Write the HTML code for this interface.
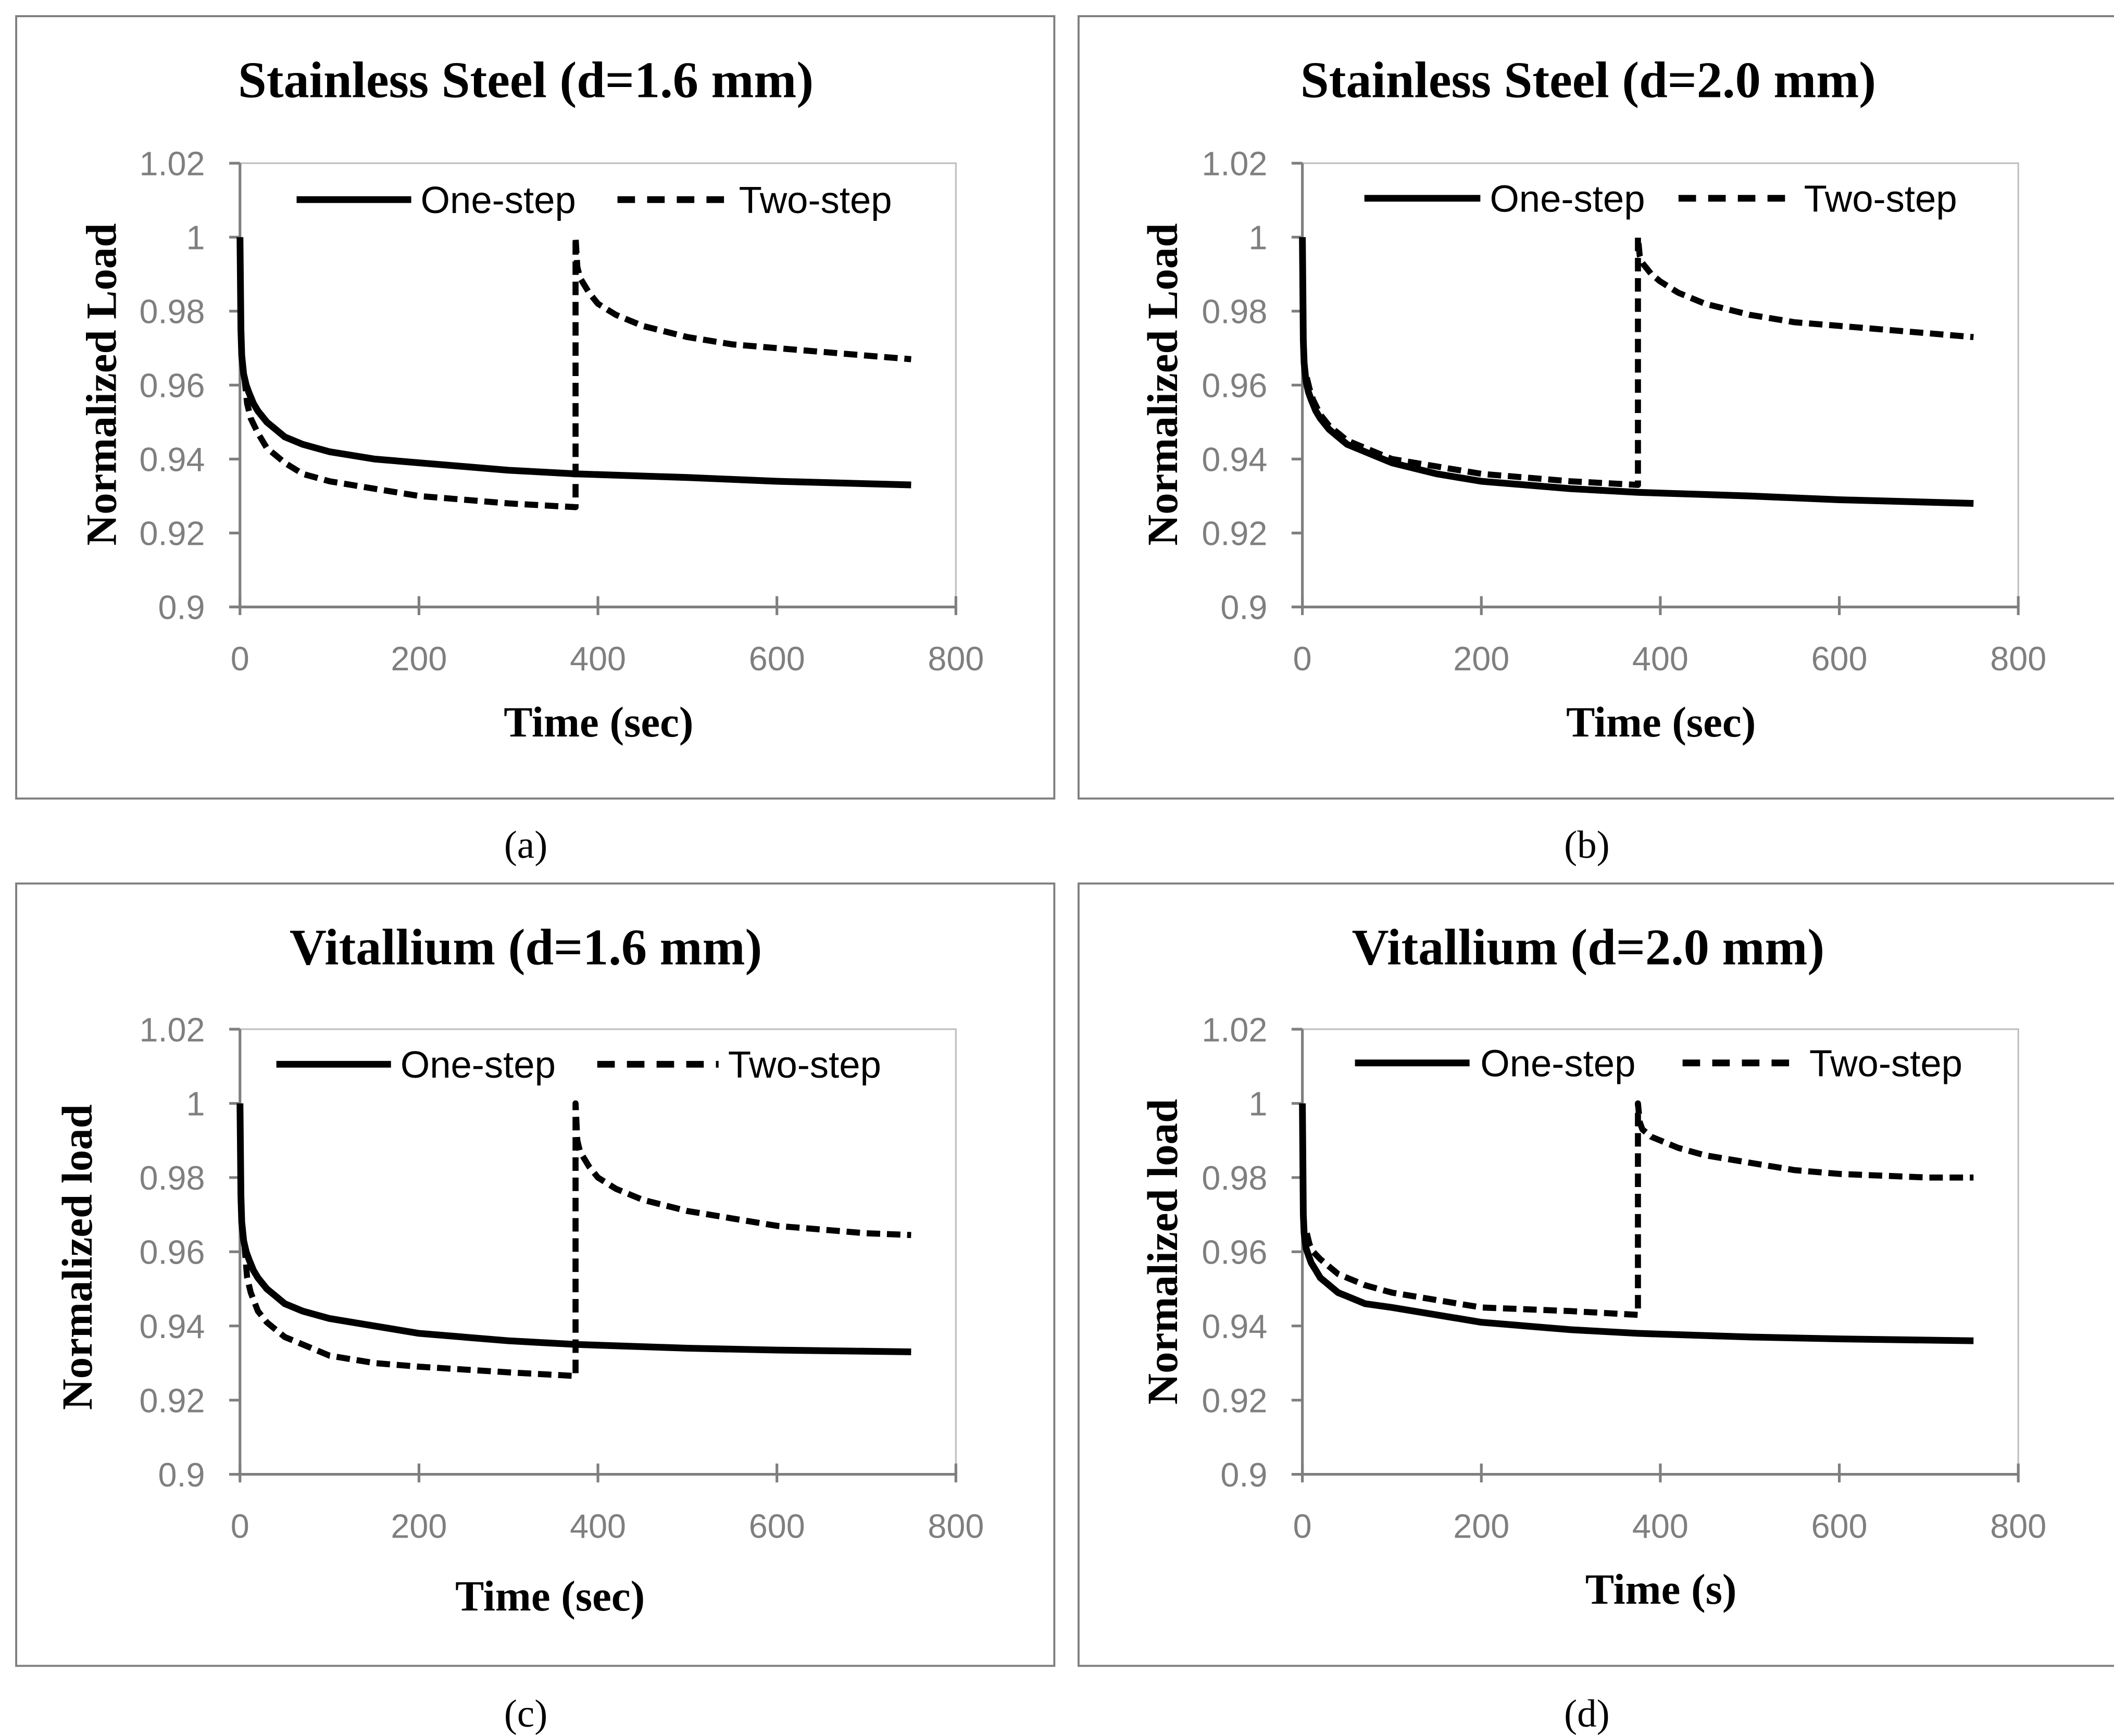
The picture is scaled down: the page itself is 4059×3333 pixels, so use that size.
<!DOCTYPE html>
<html><head><meta charset="utf-8"><style>
html,body{margin:0;padding:0;background:#fff;}
svg{display:block;}
.t{font-family:"Liberation Serif",serif;font-weight:bold;fill:#000;}
.tk{font-family:"Liberation Sans",sans-serif;fill:#7f7f7f;font-size:25px;}
.lg{font-family:"Liberation Sans",sans-serif;fill:#000;font-size:28px;}
</style></head><body>
<svg id="fig" width="4059" height="3333" viewBox="0 0 1568 1287" preserveAspectRatio="none" xmlns="http://www.w3.org/2000/svg"></svg>
<script>
// Data: time (s) and normalized load
const panelTitles = ["Stainless Steel (d=1.6 mm)","Stainless Steel (d=2.0 mm)","Vitallium (d=1.6 mm)","Vitallium (d=2.0 mm)"];
const yTitles = ["Normalized Load","Normalized Load","Normalized load","Normalized load"];
const xTitles = ["Time (sec)","Time (sec)","Time (sec)","Time (s)"];
const panelLabels = ["(a)","(b)","(c)","(d)"];
const xTicks = [0,200,400,600,800];
const yTicks = [0.9,0.92,0.94,0.96,0.98,1,1.02];
const yTickLabels = ["0.9","0.92","0.94","0.96","0.98","1","1.02"];

const oneT = [0,1,2,4,7,10,15,20,30,40,50,70,100,150,200,300,375,500,600,750];
const oneA = [1.0,0.975,0.968,0.963,0.960,0.958,0.955,0.953,0.950,0.948,0.946,0.944,0.942,0.940,0.939,0.937,0.936,0.935,0.934,0.933];
const oneB = [1.0,0.972,0.966,0.961,0.958,0.956,0.953,0.951,0.948,0.946,0.944,0.942,0.939,0.936,0.934,0.932,0.931,0.930,0.929,0.928];
const oneC = [1.0,0.975,0.968,0.963,0.960,0.958,0.955,0.953,0.950,0.948,0.946,0.944,0.942,0.940,0.938,0.936,0.935,0.934,0.9335,0.933];
const oneD = [1.0,0.970,0.965,0.961,0.959,0.957,0.955,0.953,0.951,0.949,0.948,0.946,0.945,0.943,0.941,0.939,0.938,0.937,0.9365,0.936];

const twoT1 = [5,8,12,20,30,40,50,70,100,150,200,300,375];
const twoA1 = [0.962,0.955,0.951,0.947,0.943,0.941,0.939,0.936,0.934,0.932,0.930,0.928,0.927];
const twoB1 = [0.962,0.959,0.956,0.952,0.949,0.947,0.945,0.943,0.940,0.938,0.936,0.934,0.933];
const twoC1 = [0.962,0.953,0.949,0.944,0.941,0.939,0.937,0.935,0.932,0.930,0.929,0.9275,0.9265];
const twoD1 = [0.965,0.962,0.960,0.958,0.956,0.954,0.953,0.951,0.949,0.947,0.945,0.944,0.943];

const twoT2 = [375,377,380,390,400,420,450,500,550,600,700,750];
const twoA2 = [1.0,0.992,0.989,0.985,0.982,0.979,0.976,0.973,0.971,0.970,0.968,0.967];
const twoB2 = [1.0,0.995,0.993,0.990,0.988,0.985,0.982,0.979,0.977,0.976,0.974,0.973];
const twoC2 = [1.0,0.990,0.987,0.983,0.980,0.977,0.974,0.971,0.969,0.967,0.965,0.9645];
const twoD2 = [1.0,0.995,0.993,0.991,0.990,0.988,0.986,0.984,0.982,0.981,0.980,0.980];

const oneSeries=[oneA,oneB,oneC,oneD], two1=[twoA1,twoB1,twoC1,twoD1], two2=[twoA2,twoB2,twoC2,twoD2];
const NS="http://www.w3.org/2000/svg";
const svg=document.getElementById('fig');
function mk(tag,attrs,parent){const e=document.createElementNS(NS,tag);for(const k in attrs)e.setAttribute(k,attrs[k]);(parent||svg).appendChild(e);return e;}

const layout=[
 {bx:12,by:12,ox:178,oy:450,top:121,r:709,legY:148,l1:[220,305,312],l2:[458,540,548],yt:[75,285],xt:[444,535],lab:[390,626]},
 {bx:800,by:12,ox:966,oy:450,top:121,r:1497,legY:147,l1:[1012,1098,1105],l2:[1245,1330,1338],yt:[862,285],xt:[1232,535],lab:[1177,626]},
 {bx:12,by:655,ox:178,oy:1093,top:763,r:709,legY:789,l1:[205,290,297],l2:[443,533,540],yt:[57,932],xt:[408,1183],lab:[390,1270]},
 {bx:800,by:655,ox:966,oy:1093,top:763,r:1497,legY:788,l1:[1005,1090,1098],l2:[1248,1335,1342],yt:[862,928],xt:[1232,1178],lab:[1177,1270]}
];

layout.forEach((L,i)=>{
 const g=mk('g',{});
 
 
 const box=mk('rect',{x:L.bx,y:L.by,width:770,height:580,fill:'none',stroke:'#7f7f7f','stroke-width':1.5},g);
 
 
 const xs=v=>L.ox+(v/800)*(L.r-L.ox);
 const ys=v=>L.oy-(v-0.9)/0.12*(L.oy-L.top);
 mk('path',{d:`M${L.ox},${L.top}H${L.r}V${L.oy}`,fill:'none',stroke:'#bfbfbf','stroke-width':1.2},g);
 const title=mk('text',{x:(L.bx+378),y:L.by+60,'text-anchor':'middle','font-size':38,class:'t'},g);
 title.textContent=panelTitles[i];
 
 
 const ya=mk('line',{x1:L.ox,y1:L.top,x2:L.ox,y2:L.oy,stroke:'#7f7f7f','stroke-width':2},g);
 
 
 const xa=mk('line',{x1:L.ox-8,y1:L.oy,x2:L.r,y2:L.oy,stroke:'#7f7f7f','stroke-width':2},g);
 
 
 yTicks.forEach((v,k)=>{
  mk('line',{x1:L.ox-8,y1:ys(v),x2:L.ox,y2:ys(v),stroke:'#7f7f7f','stroke-width':2},g);
  const t=mk('text',{x:L.ox-26,y:ys(v)+9,'text-anchor':'end',class:'tk'},g);
  t.textContent=yTickLabels[k];
  
  
 });
 xTicks.forEach(v=>{
  mk('line',{x1:xs(v),y1:L.oy-8,x2:xs(v),y2:L.oy+6,stroke:'#7f7f7f','stroke-width':2},g);
  const t=mk('text',{x:xs(v),y:L.oy+47,'text-anchor':'middle',class:'tk'},g);
  t.textContent=String(v);
  
  
 });
 const yt=mk('text',{x:0,y:0,'text-anchor':'middle','font-size':32,class:'t',transform:`translate(${L.yt[0]+11},${L.yt[1]}) rotate(-90)`},g);
 yt.textContent=yTitles[i];
 
 
 const xt=mk('text',{x:L.xt[0],y:L.xt[1]+11,'text-anchor':'middle','font-size':32,class:'t'},g);
 xt.textContent=xTitles[i];
 
 
 const lab=mk('text',{x:L.lab[0],y:L.lab[1]+10,'text-anchor':'middle','font-size':29,class:'t',style:'font-weight:normal'},g);
 lab.textContent=panelLabels[i];
 
 
 const pts=(T,V)=>T.map((t,k)=>xs(t).toFixed(1)+','+ys(V[k]).toFixed(1)).join(' ');
 const one=mk('polyline',{points:pts(oneT,oneSeries[i]),fill:'none',stroke:'#000','stroke-width':5,'stroke-linejoin':'round'},g);
 
 
 const tT=twoT1.concat(twoT2), tV=two1[i].concat(two2[i]);
 const two=mk('polyline',{points:pts(tT,tV),fill:'none',stroke:'#000','stroke-width':4.5,'stroke-dasharray':'10,5','stroke-linejoin':'round'},g);
 
 
 const l1=mk('line',{x1:L.l1[0],y1:L.legY,x2:L.l1[1],y2:L.legY,stroke:'#000','stroke-width':5},g);
 
 
 const lt1=mk('text',{x:L.l1[2],y:L.legY+10,class:'lg'},g);
 lt1.textContent='One-step';
 
 
 const l2=mk('line',{x1:L.l2[0],y1:L.legY,x2:L.l2[1],y2:L.legY,stroke:'#000','stroke-width':5,'stroke-dasharray':'13,9'},g);
 
 
 const lt2=mk('text',{x:L.l2[2],y:L.legY+10,class:'lg'},g);
 lt2.textContent='Two-step';
 
 
});
</script>
</body></html>
